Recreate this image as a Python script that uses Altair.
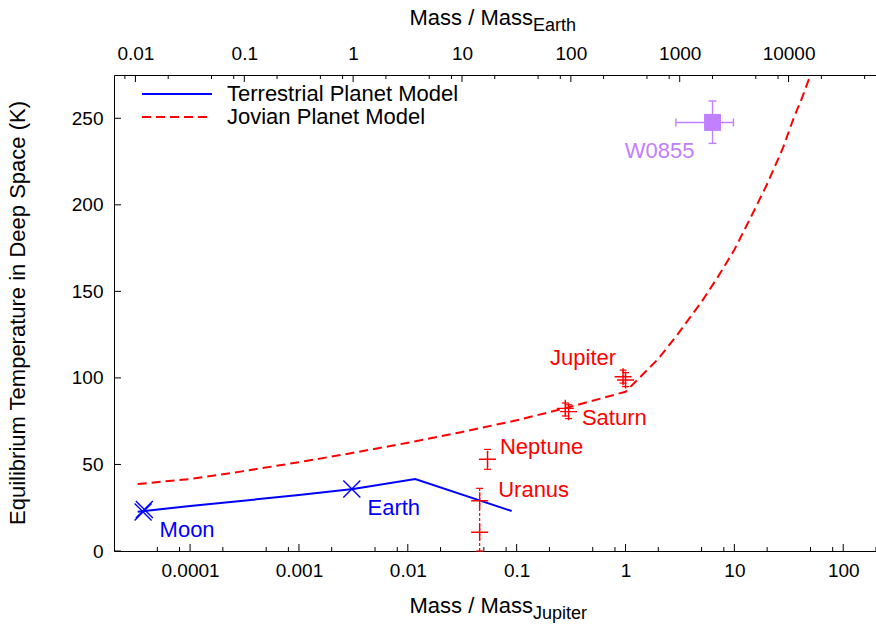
import altair as alt
import pandas as pd

FONT = "Liberation Sans"
BLUE = "#0000ff"
RED = "#ff0000"
PURPLE = "#c080ff"
EARTH_PER_JUPITER = 317.8
X_DOMAIN = [2e-5, 200]
XE_DOMAIN = [X_DOMAIN[0] * EARTH_PER_JUPITER, X_DOMAIN[1] * EARTH_PER_JUPITER]
Y_DOMAIN = [0, 275]

# ---- data ----
terr_mass = [3.3e-5, 1e-4, 1e-3, 3.146e-3, 0.0117, 0.09]
terr_temp = [22.7, 26.0, 32.3, 35.8, 41.6, 23.1]

jov_mass = [3.3e-5, 1e-4, 3e-4, 1e-3, 3e-3, 0.01, 0.03, 0.1, 0.3, 1.0, 2.0, 3.0, 5.0, 7.0,
            10.0, 15.0, 20.0, 28.0, 35.0, 42.0, 50.0, 70.0]
jov_temp = [38.7, 41.6, 46.0, 51.3, 56.5, 62.5, 68.5, 75.5, 83.0, 92.0, 111.0, 125.0, 144.0,
            158.0, 174.0, 196.0, 212.0, 233.0, 250.0, 262.0, 275.0, 300.0]

rocky_name = ["Moon", "Moon", "Earth"]
rocky_mass = [3.7e-5, 3.8e-5, 3.06e-3]
rocky_temp = [22.6, 24.0, 35.8]

giant_name = ["Jupiter", "Jupiter", "Saturn", "Saturn", "Neptune", "Uranus", "Uranus"]
giant_mass = [0.95, 1.0, 0.28, 0.30, 0.054, 0.0457, 0.0457]
giant_temp = [100.7, 98.8, 82.4, 80.5, 53.0, 29.0, 10.8]
giant_low = [97.0, 95.0, 78.0, 76.5, 47.2, 0.0, 10.8]
giant_high = [104.5, 103.0, 85.5, 84.5, 58.7, 36.2, 10.8]

w_name = ["W0855"]
w_mass = [6.3]
w_mass_lo = [2.9]
w_mass_hi = [9.8]
w_temp = [247.6]
w_temp_lo = [235.5]
w_temp_hi = [260.0]

y_ticks = [0, 50, 100, 150, 200, 250]
bottom_ticks = [1e-4, 1e-3, 0.01, 0.1, 1, 10, 100]
top_ticks = [0.01, 0.1, 1, 10, 100, 1000, 10000]
minor_steps = [2, 5, 8]

legend_names = ["Terrestrial Planet Model", "Jovian Planet Model"]

# label offsets (style)
label_offsets = {
    "Moon": (44, 18), "Earth": (42, 19), "Jupiter": (-40, -19), "Saturn": (49, 10),
    "Neptune": (54, -12), "Uranus": (54, -11), "W0855": (-53, 29),
}

W, H = 762, 476
X_PATH = "M-1,-1L1,1M-1,1L1,-1"
PLUS_PATH = "M-1,0L1,0M0,-1L0,1"


def minor_list(lo, hi):
    out = []
    d = 1e-6
    while d < hi * 10:
        for m in minor_steps:
            v = d * m
            if lo <= v <= hi:
                out.append(v)
        d *= 10
    return out


xs = alt.Scale(type="log", domain=X_DOMAIN, nice=False)
xes = alt.Scale(type="log", domain=XE_DOMAIN, nice=False)
ys = alt.Scale(domain=Y_DOMAIN, nice=False, zero=False)

bottom_axis = alt.Axis(values=bottom_ticks, format="~g", orient="bottom", title=None,
                       ticks=False, grid=False, domainColor="black", domainWidth=1,
                       labelFont=FONT, labelFontSize=19, labelColor="black", labelPadding=10)
left_axis = alt.Axis(values=y_ticks, orient="left", title=None, ticks=False, grid=False,
                     domainColor="black", domainWidth=1, labelFont=FONT, labelFontSize=19,
                     labelColor="black", labelPadding=11)
top_axis = alt.Axis(values=top_ticks, format="~g", orient="top", title=None, ticks=False,
                    grid=False, domainColor="black", domainWidth=1, labelFont=FONT,
                    labelFontSize=19, labelColor="black", labelPadding=12)


def X(f):
    return alt.X(f, type="quantitative", scale=xs, axis=bottom_axis)


def Y(f):
    return alt.Y(f, type="quantitative", scale=ys, axis=left_axis)


def XE(f):
    return alt.X(f, type="quantitative", scale=xes, axis=top_axis)


df_terr = pd.DataFrame({"m": terr_mass, "t": terr_temp})
df_jov = pd.DataFrame({"m": jov_mass, "t": jov_temp})
df_rocky = pd.DataFrame({"name": rocky_name, "m": rocky_mass, "t": rocky_temp})
df_giant = pd.DataFrame({"name": giant_name, "m": giant_mass, "t": giant_temp,
                         "lo": giant_low, "hi": giant_high})
df_w = pd.DataFrame({"name": w_name, "m": w_mass, "mlo": w_mass_lo, "mhi": w_mass_hi,
                     "t": w_temp, "tlo": w_temp_lo, "thi": w_temp_hi})

one = pd.DataFrame({"a": [0]})

# ---- inward ticks drawn as rules ----
bottom_major = alt.Chart(pd.DataFrame({"m": bottom_ticks})).mark_rule(color="black", strokeWidth=1).encode(
    x=X("m"), y=alt.value(H), y2=alt.value(H - 7))
bottom_minor = alt.Chart(pd.DataFrame({"m": minor_list(*X_DOMAIN)})).mark_rule(color="black", strokeWidth=1).encode(
    x=X("m"), y=alt.value(H), y2=alt.value(H - 4))
left_ticks = alt.Chart(pd.DataFrame({"t": y_ticks})).mark_rule(color="black", strokeWidth=1).encode(
    y=Y("t"), x=alt.value(0), x2=alt.value(7))
top_major = alt.Chart(pd.DataFrame({"e": top_ticks})).mark_rule(color="black", strokeWidth=1).encode(
    x=XE("e"), y=alt.value(0), y2=alt.value(7))
top_minor = alt.Chart(pd.DataFrame({"e": minor_list(*XE_DOMAIN)})).mark_rule(color="black", strokeWidth=1).encode(
    x=XE("e"), y=alt.value(0), y2=alt.value(4))

# ---- models ----
terr = alt.Chart(df_terr).mark_line(color=BLUE, strokeWidth=2, clip=True).encode(x=X("m"), y=Y("t"))
jov = alt.Chart(df_jov).mark_line(color=RED, strokeWidth=2, strokeDash=[9, 5], clip=True).encode(
    x=X("m"), y=Y("t"))

# ---- observations ----
rocky = alt.Chart(df_rocky).mark_point(shape=X_PATH, size=289, filled=False, strokeWidth=1.4,
                                       color=BLUE, opacity=1).encode(x=X("m"), y=Y("t"))

giant_err = alt.Chart(df_giant).transform_filter("datum.hi > datum.lo").mark_rule(
    color=RED, strokeWidth=1.2, strokeDash=[3, 2]).encode(x=X("m"), y=Y("lo"), y2=alt.Y2("hi"))
giant_caps = alt.Chart(df_giant).transform_filter("datum.hi > datum.lo").transform_fold(
    ["lo", "hi"], as_=["k", "v"]).mark_tick(orient="horizontal", size=7, thickness=1.2,
                                              color=RED, opacity=1).encode(x=X("m"), y=Y("v:Q"))
giant = alt.Chart(df_giant).mark_point(shape=PLUS_PATH, size=289, filled=False, strokeWidth=1.4,
                                       color=RED, opacity=1).encode(x=X("m"), y=Y("t"))

w_h = alt.Chart(df_w).mark_rule(color=PURPLE, strokeWidth=1.4).encode(x=X("mlo"), x2=alt.X2("mhi"), y=Y("t"))
w_v = alt.Chart(df_w).mark_rule(color=PURPLE, strokeWidth=1.4).encode(x=X("m"), y=Y("tlo"), y2=alt.Y2("thi"))
w_capv = alt.Chart(df_w).transform_fold(["tlo", "thi"], as_=["k", "v"]).mark_tick(
    orient="horizontal", size=8, thickness=1.4, color=PURPLE, opacity=1).encode(x=X("m"), y=Y("v:Q"))
w_caph = alt.Chart(df_w).transform_fold(["mlo", "mhi"], as_=["k", "v"]).mark_tick(
    orient="vertical", size=8, thickness=1.4, color=PURPLE, opacity=1).encode(x=X("v:Q"), y=Y("t"))
w_sq = alt.Chart(df_w).mark_square(size=289, color=PURPLE, opacity=1, filled=True).encode(x=X("m"), y=Y("t"))

# ---- labels ----
label_layers = []
lab_src = [(df_rocky.drop_duplicates("name"), BLUE), (df_giant.drop_duplicates("name"), RED),
           (df_w, PURPLE)]
for df, col in lab_src:
    for _, r in df.iterrows():
        dx, dy = label_offsets[r["name"]]
        label_layers.append(
            alt.Chart(pd.DataFrame([r[["name", "m", "t"]].to_dict()])).mark_text(
                font=FONT, fontSize=22, color=col, dx=dx, dy=dy, align="center",
                baseline="middle").encode(x=X("m"), y=Y("t"), text="name:N"))

# ---- legend ----
leg_blue = alt.Chart(one).mark_rule(color=BLUE, strokeWidth=2).encode(
    x=alt.value(28), x2=alt.value(98), y=alt.value(19))
leg_red = alt.Chart(one).mark_rule(color=RED, strokeWidth=2, strokeDash=[9, 5]).encode(
    x=alt.value(28), x2=alt.value(98), y=alt.value(42))
leg_t1 = alt.Chart(one).mark_text(font=FONT, fontSize=22, align="left", baseline="middle").encode(
    x=alt.value(113), y=alt.value(19), text=alt.value(legend_names[0]))
leg_t2 = alt.Chart(one).mark_text(font=FONT, fontSize=22, align="left", baseline="middle").encode(
    x=alt.value(113), y=alt.value(42), text=alt.value(legend_names[1]))


# ---- axis titles with subscripts ----
def txt(s, x, y, size=22, align="center", angle=0):
    return alt.Chart(one).mark_text(font=FONT, fontSize=size, align=align, baseline="middle",
                                    angle=angle, color="black").encode(
        x=alt.value(x), y=alt.value(y), text=alt.value(s))


titles = [
    txt("Mass / Mass", 419, 531, align="right"),
    txt("Jupiter", 419, 539, size=18, align="left"),
    txt("Mass / Mass", 419, -57, align="right"),
    txt("Earth", 419, -49, size=18, align="left"),
    txt("Equilibrium Temperature in Deep Space (K)", -96, H / 2, angle=270),
]

jup_layer = alt.layer(bottom_major, bottom_minor, left_ticks, jov, terr, giant_err, giant_caps,
                      giant, rocky, w_h, w_v, w_capv, w_caph, w_sq, *label_layers,
                      leg_blue, leg_red, leg_t1, leg_t2, *titles)
earth_layer = alt.layer(top_major, top_minor)

chart = alt.layer(jup_layer, earth_layer).resolve_scale(x="independent").properties(
    width=W, height=H,
    padding={"left": 114, "top": 75, "right": 0, "bottom": 76},
    autosize=alt.AutoSizeParams(type="none"),
    background="white",
).configure_view(stroke=None)

chart.save("out.html", embed_options={"renderer": "svg", "actions": False})
